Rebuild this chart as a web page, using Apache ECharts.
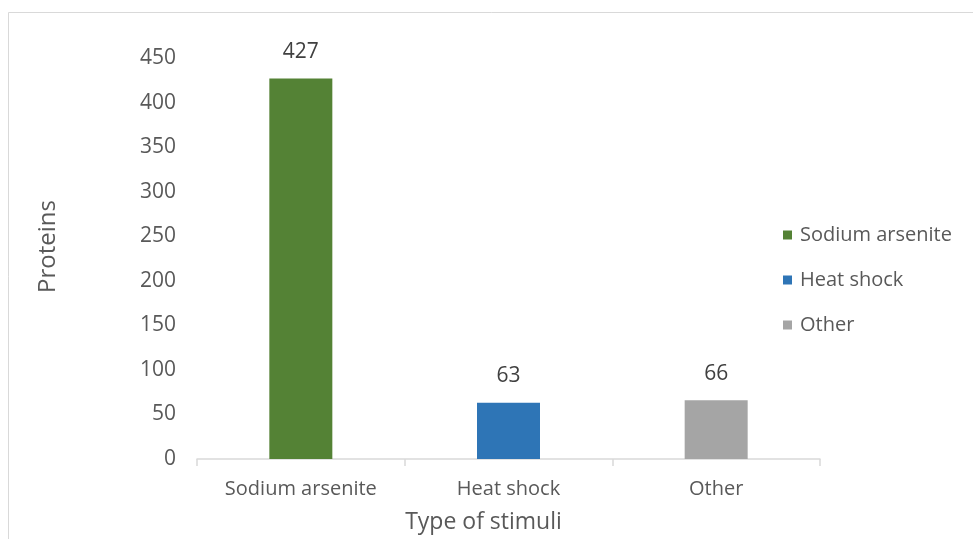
<!DOCTYPE html>
<html>
<head>
<meta charset="utf-8">
<script src="https://cdn.jsdelivr.net/npm/echarts@6/dist/echarts.min.js"></script>
<style>
  html, body { margin: 0; padding: 0; background: #fff; }
  #chart { width: 973px; height: 539px; }
</style>
</head>
<body>
<div id="chart"></div>
<script>
// Number of proteins per stimulus type
const categories = ['Sodium arsenite', 'Heat shock', 'Other'];
const proteinCounts = [427, 63, 66];
const seriesColors = ['#548235', '#2e75b6', '#a5a5a5'];
const yTicks = { min: 0, max: 450, interval: 50 };

const FONT = '"Open Sans", sans-serif';
const TEXT = '#595959';

// One series per category so each appears in the legend; stacking keeps the bar centred
const series = categories.map((name, i) => ({
  name: name,
  type: 'bar',
  stack: 'one',
  barWidth: 63,
  itemStyle: { color: seriesColors[i] },
  label: {
    show: true,
    position: 'top',
    distance: 16,
    color: '#404040',
    fontFamily: FONT,
    fontSize: 21
  },
  data: categories.map((c, j) => (j === i ? proteinCounts[i] : '-'))
}));

const chart = echarts.init(document.getElementById('chart'), null, { renderer: 'canvas' });
chart.setOption({
  animation: false,
  backgroundColor: '#ffffff',
  graphic: [{
    type: 'rect',
    shape: { x: 8.5, y: 12.5, width: 990, height: 560 },
    style: { fill: 'none', stroke: '#d9d9d9', lineWidth: 1 },
    silent: true
  }],
  grid: { left: 197, right: 153, top: 58, bottom: 80 },
  legend: {
    orient: 'vertical',
    left: 783,
    top: 225,
    padding: 0,
    itemWidth: 9,
    itemHeight: 9,
    itemGap: 25,
    icon: 'rect',
    textStyle: { color: TEXT, fontFamily: FONT, fontSize: 20, padding: [0, 0, 0, 3] },
    data: categories
  },
  xAxis: {
    type: 'category',
    data: categories,
    name: 'Type of stimuli',
    nameLocation: 'middle',
    nameGap: 52,
    nameTextStyle: { color: TEXT, fontFamily: FONT, fontSize: 23, padding: [0, 50, 0, 0] },
    axisLine: { lineStyle: { color: '#d9d9d9', width: 1.5 } },
    axisTick: { show: true, length: 7, lineStyle: { color: '#d9d9d9', width: 1.5 } },
    axisLabel: { color: TEXT, fontFamily: FONT, fontSize: 20, margin: 20 }
  },
  yAxis: {
    type: 'value',
    min: yTicks.min,
    max: yTicks.max,
    interval: yTicks.interval,
    name: 'Proteins',
    nameLocation: 'middle',
    nameGap: 137,
    nameTextStyle: { color: TEXT, fontFamily: FONT, fontSize: 24, padding: [0, 0, 0, 24] },
    axisLine: { show: false },
    axisTick: { show: false },
    splitLine: { show: false },
    axisLabel: { color: TEXT, fontFamily: FONT, fontSize: 21, margin: 21 }
  },
  series: series
});
</script>
</body>
</html>
